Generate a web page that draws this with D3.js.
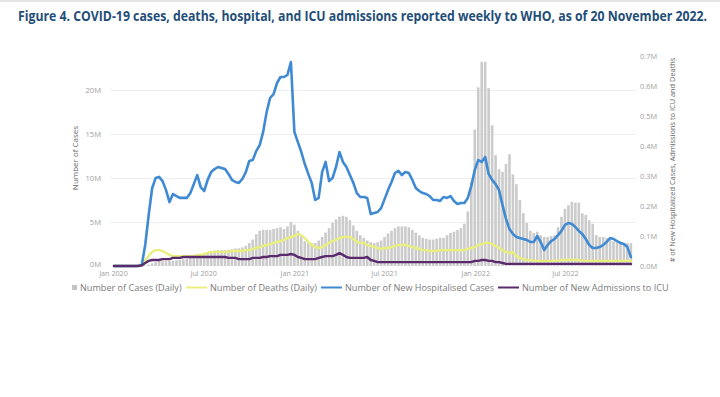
<!DOCTYPE html>
<html>
<head>
<meta charset="utf-8">
<script src="https://cdn.jsdelivr.net/npm/d3@7"></script>
<style>
  body { margin: 0; background: #fff; }
  svg { display: block; font-family: "Open Sans", "Noto Sans", sans-serif; }
</style>
</head>
<body>
<svg id="chart" width="720" height="397"></svg>
<script>
const TITLE = "Figure 4. COVID-19 cases, deaths, hospital, and ICU admissions reported weekly to WHO, as of 20 November 2022.";

// first reported week, one point per week after it
const firstWeek = new Date(2020, 0, 3);

// weekly cases, millions (left axis)
const casesM = [
    0.00, 0.00, 0.01, 0.02, 0.02, 0.01, 0.01, 0.01, 0.02, 0.06,
    0.15, 0.30, 0.45, 0.55, 0.55, 0.55, 0.60, 0.60, 0.65, 0.70,
    0.75, 0.80, 0.90, 1.00, 1.10, 1.25, 1.40, 1.55, 1.70, 1.75,
    1.80, 1.80, 1.80, 1.85, 1.90, 2.00, 2.00, 2.10, 2.30, 2.60,
    3.00, 3.60, 4.00, 4.10, 4.10, 4.10, 4.20, 4.30, 4.40, 4.20,
    4.50, 5.00, 4.70, 4.00, 3.40, 2.80, 2.60, 2.60, 2.60, 2.90,
    3.30, 3.80, 4.30, 4.90, 5.30, 5.60, 5.70, 5.60, 5.20, 4.60,
    4.00, 3.50, 3.20, 2.90, 2.70, 2.60, 2.70, 2.90, 3.30, 3.70,
    4.00, 4.30, 4.50, 4.50, 4.50, 4.40, 4.10, 3.80, 3.50, 3.20,
    3.10, 3.00, 3.00, 3.10, 3.20, 3.20, 3.50, 3.75, 3.90, 4.10,
    4.30, 4.80, 6.20, 9.50, 15.5, 20.3, 23.2, 23.2, 20.2, 16.0,
    12.6, 11.0, 10.7, 11.6, 12.7, 10.4, 9.30, 7.50, 6.00, 4.90,
    4.00, 3.75, 3.90, 3.50, 3.30, 3.30, 3.40, 3.50, 4.40, 5.60,
    6.50, 6.90, 7.30, 7.20, 7.20, 6.00, 5.80, 5.20, 4.80, 3.50,
    3.30, 3.30, 3.20, 3.00, 2.80, 2.70, 2.70, 2.60, 2.60, 2.60
];

// weekly deaths, thousands (right axis)
const deathsK = [
    0, 0, 0, 0, 0, 0, 0, 0, 3, 20,
    33, 47, 53, 53, 50, 43, 37, 33, 33, 33,
    33, 33, 33, 33, 37, 37, 40, 43, 47, 47,
    47, 47, 47, 47, 50, 50, 50, 50, 53, 53,
    57, 60, 63, 67, 70, 73, 77, 80, 83, 87,
    93, 97, 100, 107, 103, 93, 80, 70, 63, 60,
    63, 70, 77, 83, 87, 93, 97, 97, 97, 90,
    80, 77, 77, 70, 67, 63, 60, 57, 60, 60,
    63, 67, 70, 70, 70, 67, 63, 60, 57, 53,
    53, 50, 50, 50, 53, 53, 53, 53, 53, 53,
    53, 53, 57, 60, 63, 70, 73, 77, 77, 73,
    67, 60, 53, 47, 43, 47, 33, 27, 23, 20,
    20, 17, 17, 17, 17, 17, 17, 17, 18, 20,
    20, 21, 21, 20, 20, 18, 17, 17, 17, 17,
    17, 17, 17, 17, 17, 17, 17, 17, 17, 17
];

// weekly new hospitalised cases, thousands (right axis)
const hospitalK = [
    0, 0, 0, 0, 0, 0, 0, 1, 3, 70,
    170, 260, 293, 297, 283, 253, 213, 240, 233, 227,
    227, 227, 243, 273, 303, 263, 250, 287, 313, 323,
    330, 327, 323, 307, 287, 280, 277, 290, 313, 350,
    353, 383, 403, 447, 513, 560, 573, 610, 630, 630,
    637, 680, 447, 413, 380, 340, 307, 277, 220, 227,
    313, 347, 283, 293, 330, 380, 347, 330, 303, 277,
    243, 230, 230, 227, 173, 177, 180, 193, 223, 253,
    280, 310, 317, 303, 313, 310, 287, 260, 250, 243,
    240, 233, 220, 220, 217, 230, 227, 233, 217, 207,
    210, 210, 227, 267, 320, 353, 347, 363, 307, 287,
    273, 253, 203, 157, 123, 107, 97, 93, 90, 87,
    80, 80, 100, 80, 53, 70, 83, 90, 103, 117,
    137, 143, 140, 130, 117, 107, 90, 70, 60, 60,
    63, 70, 80, 93, 90, 83, 77, 73, 63, 30
];

// weekly new admissions to ICU, thousands (right axis)
const icuK = [
    0, 0, 0, 0, 0, 0, 0, 0, 2, 10,
    17, 20, 20, 20, 23, 23, 23, 27, 27, 27,
    30, 30, 30, 30, 30, 30, 30, 30, 30, 30,
    30, 30, 30, 27, 27, 27, 23, 23, 23, 23,
    27, 27, 27, 30, 30, 33, 33, 33, 37, 37,
    37, 40, 37, 30, 27, 23, 23, 23, 23, 27,
    30, 33, 33, 33, 37, 43, 37, 30, 27, 27,
    27, 27, 27, 30, 20, 17, 13, 13, 13, 13,
    13, 13, 13, 13, 13, 13, 13, 13, 13, 13,
    13, 13, 13, 13, 13, 13, 13, 13, 13, 13,
    13, 13, 13, 13, 17, 17, 20, 20, 17, 17,
    13, 13, 10, 7, 7, 7, 7, 7, 7, 7,
    7, 7, 7, 7, 7, 7, 7, 7, 7, 7,
    7, 7, 7, 7, 7, 7, 7, 7, 7, 7,
    7, 7, 7, 7, 7, 7, 7, 7, 7, 7
];

const leftTicks = [0, 5e6, 10e6, 15e6, 20e6];
const rightTicks = [0, 1e5, 2e5, 3e5, 4e5, 5e5, 6e5, 7e5];
const leftMax = 23.86e6;
const rightMax = 0.7e6;

const legendItems = [
    { label: "Number of Cases (Daily)", color: "#c4c4c4", kind: "box", x: 72 },
    { label: "Number of Deaths (Daily)", color: "#e8ef7c", kind: "line", x: 186 },
    { label: "Number of New Hospitalised Cases", color: "#3f8ad3", kind: "line", x: 321 },
    { label: "Number of New Admissions to ICU", color: "#5a2b6c", kind: "line", x: 498 }
];

const svg = d3.select("#chart");

const plot = { left: 110, right: 636, top: 56, bottom: 266 };

const weeks = casesM.map((d, i) => d3.timeDay.offset(firstWeek, 7 * i));

const x = d3.scaleTime()
    .domain([new Date(2020, 0, 1), new Date(2022, 10, 27)])
    .range([113, 638.8]);

const yLeft = d3.scaleLinear()
    .domain([0, leftMax])
    .range([plot.bottom, plot.top]);

const yRight = d3.scaleLinear()
    .domain([0, rightMax])
    .range([plot.bottom, plot.top]);

// top edge of the screenshot
svg.append("rect")
    .attr("x", 0).attr("y", 0)
    .attr("width", 720).attr("height", 2)
    .attr("fill", "#e4e4e4");

// title, squeezed horizontally to the width it has in the figure
const title = svg.append("text")
    .attr("fill", "#1f4e79")
    .attr("font-family", "'Open Sans', sans-serif")
    .attr("font-weight", "bold")
    .attr("font-size", 13.5)
    .text(TITLE);
const titleWidth = title.node().getComputedTextLength();
title.attr("transform", "translate(18,21) scale(" + (690 / titleWidth) + ",1)");

// gridlines
svg.append("g")
    .attr("class", "grid")
    .selectAll("line")
    .data(leftTicks.slice(1))
    .join("line")
    .attr("x1", plot.left)
    .attr("x2", plot.right)
    .attr("y1", d => Math.round(yLeft(d)) + 0.5)
    .attr("y2", d => Math.round(yLeft(d)) + 0.5)
    .attr("stroke", "#efefef")
    .attr("stroke-width", 1);

// cases bars
const barWidth = 2.6;
svg.append("g")
    .attr("class", "cases")
    .selectAll("rect")
    .data(casesM)
    .join("rect")
    .attr("x", (d, i) => x(weeks[i]) - barWidth / 2)
    .attr("y", d => yLeft(d * 1e6))
    .attr("width", barWidth)
    .attr("height", d => plot.bottom - yLeft(d * 1e6))
    .attr("fill", "#cbcbcb");

function drawLine(values, color, width) {
    const line = d3.line()
        .x((d, i) => x(weeks[i]))
        .y(d => yRight(d * 1000));
    svg.append("path")
        .datum(values)
        .attr("d", line)
        .attr("fill", "none")
        .attr("stroke", color)
        .attr("stroke-width", width)
        .attr("stroke-linejoin", "round")
        .attr("stroke-linecap", "round");
}

drawLine(deathsK, "#e8ef7c", 2.4);
drawLine(hospitalK, "#3f8ad3", 2.6);
drawLine(icuK, "#5a2b6c", 2.4);

// left axis
const leftAxis = svg.append("g")
    .attr("transform", "translate(101,0)")
    .call(d3.axisLeft(yLeft)
        .tickValues(leftTicks)
        .tickSize(0)
        .tickPadding(0)
        .tickFormat(d => d / 1e6 + "M"));
leftAxis.select(".domain").remove();
leftAxis.selectAll("text")
    .attr("fill", "#a0a0a0")
    .attr("font-size", 7.6)
    .attr("font-family", "'Open Sans', sans-serif");
leftAxis.selectAll(".tick")
    .filter(d => d === 0)
    .select("text")
    .attr("dy", "0.1em");

// right axis
const rightAxis = svg.append("g")
    .attr("transform", "translate(640,0)")
    .call(d3.axisRight(yRight)
        .tickValues(rightTicks)
        .tickSize(0)
        .tickPadding(0)
        .tickFormat(d => d3.format(".1f")(d / 1e6) + "M"));
rightAxis.select(".domain").remove();
rightAxis.selectAll("text")
    .attr("fill", "#a0a0a0")
    .attr("font-size", 7.4)
    .attr("font-family", "'Open Sans', sans-serif");

// x axis
const xAxis = svg.append("g")
    .attr("transform", "translate(0," + (plot.bottom + 3) + ")")
    .call(d3.axisBottom(x)
        .ticks(d3.timeMonth.every(6))
        .tickSize(0)
        .tickPadding(2)
        .tickFormat(d3.timeFormat("%b %Y")));
xAxis.select(".domain").remove();
xAxis.selectAll("text")
    .attr("fill", "#a0a0a0")
    .attr("font-size", 7.2)
    .attr("font-family", "'Open Sans', sans-serif");

// axis titles
svg.append("text")
    .attr("transform", "translate(78,158) rotate(-90)")
    .attr("text-anchor", "middle")
    .attr("fill", "#666")
    .attr("font-size", 8)
    .text("Number of Cases");

svg.append("text")
    .attr("transform", "translate(675,160) rotate(-90)")
    .attr("text-anchor", "middle")
    .attr("fill", "#666")
    .attr("font-size", 7.4)
    .text("# of New Hospitalized Cases, Admissions to ICU and Deaths");

// legend
const legend = svg.append("g")
    .attr("class", "legend")
    .attr("font-size", 9.1)
    .attr("fill", "#7a7a7a");

legendItems.forEach(item => {
    const g = legend.append("g");
    let textX;
    if (item.kind === "box") {
        g.append("rect")
            .attr("x", item.x)
            .attr("y", 285)
            .attr("width", 5)
            .attr("height", 5)
            .attr("fill", item.color);
        textX = item.x + 8;
    } else {
        g.append("line")
            .attr("x1", item.x)
            .attr("x2", item.x + 21)
            .attr("y1", 287.5)
            .attr("y2", 287.5)
            .attr("stroke", item.color)
            .attr("stroke-width", 2);
        textX = item.x + 24;
    }
    g.append("text")
        .attr("x", textX)
        .attr("y", 291)
        .text(item.label);
});
</script>
</body>
</html>
